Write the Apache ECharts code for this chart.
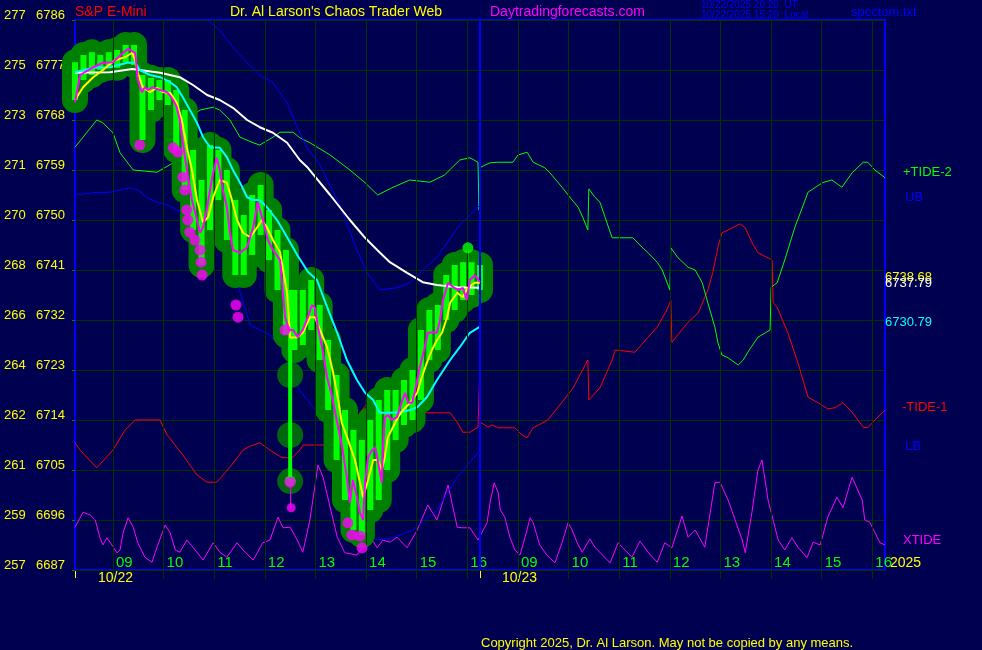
<!DOCTYPE html>
<html><head><meta charset="utf-8">
<script src="https://cdn.jsdelivr.net/npm/echarts@6/dist/echarts.min.js"></script>
<style>html,body{margin:0;padding:0;background:#000050;}#c{width:982px;height:650px;}</style>
</head><body><div id="c"></div>
<script>
// ---------- DATA ----------
// x values are session hours: day 1 clock hour, day 2 clock hour + 8
const leftScale = [257,259,261,262,264,266,268,270,271,273,275,277];
const hourTicks = [9,10,11,12,13,14,15,16,17,18,19,20,21,22,23,24];
const hourLabels = ['09','10','11','12','13','14','15','16','09','10','11','12','13','14','15','16'];
const nowTime = 16.25;

// 10-minute price bars from 08:15 (day 1)
const barStart = 8.25;
const barHigh = [6778.4,6779.7,6780.2,6779.7,6780.2,6780.6,6781.5,6781.5,6776.1,6775.6,6775.2,6775.2,6773.4,6769.8,6762.6,6757.2,6763.5,6762.6,6759.0,6753.6,6750.9,6754.5,6756.3,6751.8,6748.2,6744.6,6737.4,6737.4,6739.2,6734.7,6728.4,6722.1,6715.8,6712.2,6710.4,6714.0,6717.6,6719.4,6719.4,6721.2,6723.0,6730.2,6733.8,6734.7,6740.1,6741.9,6742.4,6742.4,6741.9];
const barLow  = [6771.6,6775.2,6776.1,6777.0,6777.4,6777.4,6778.4,6777.9,6764.4,6769.8,6771.6,6770.7,6762.6,6755.4,6748.2,6741.9,6748.2,6753.6,6746.4,6740.1,6740.1,6743.7,6747.3,6742.8,6737.4,6729.3,6726.6,6727.5,6730.2,6724.8,6715.8,6706.8,6699.6,6694.2,6693.3,6697.8,6699.6,6705.0,6710.4,6713.1,6714.0,6717.6,6724.8,6726.6,6732.0,6733.8,6735.6,6736.5,6737.4];

const spikeBar = [[12.5,6702.8,6737.4]];
const spikeHalo = [[12.5,6722.1],[12.5,6711.3],[12.5,6703.0]];
const spikeTail = [[12.51,6702.8],[12.51,6698.2]];
const greenDots = [[12.5,6703.0],[16.01,6745.0]];
const greenTail = [[16.01,6745.0],[16.01,6741.4]];

const magentaDots = [[9.53,6763.5],[10.19,6763.0],[10.28,6762.2],[10.38,6757.7],[10.42,6755.4],[10.46,6751.8],[10.48,6750.0],[10.52,6747.8],[10.62,6746.4],[10.72,6744.6],[10.74,6742.4],[10.76,6740.1],[11.43,6734.7],[11.47,6732.5],[12.40,6730.2],[12.50,6702.8],[13.64,6695.5],[13.72,6693.3],[13.88,6693.1],[13.92,6691.0]];
const magentaSmallDots = [[12.52,6698.2]];

const fastLine = [[8.25,6771.2],[8.35,6776.1],[8.61,6777.5],[8.80,6778.3],[9.00,6778.4],[9.20,6780.1],[9.30,6780.8],[9.44,6780.1],[9.49,6775.2],[9.57,6773.0],[9.63,6773.9],[9.69,6773.4],[9.77,6773.9],[9.93,6773.4],[10.07,6773.0],[10.19,6771.6],[10.26,6770.3],[10.32,6768.0],[10.38,6763.9],[10.46,6759.0],[10.56,6753.6],[10.66,6750.0],[10.72,6747.7],[10.78,6748.7],[10.86,6752.3],[10.96,6757.7],[11.05,6761.2],[11.11,6759.0],[11.17,6755.4],[11.25,6752.3],[11.31,6747.7],[11.37,6744.6],[11.51,6744.1],[11.65,6745.1],[11.77,6748.7],[11.86,6753.2],[11.96,6750.0],[12.06,6746.4],[12.16,6744.6],[12.30,6742.8],[12.34,6738.7],[12.40,6732.5],[12.48,6730.2],[12.56,6730.2],[12.65,6728.9],[12.75,6730.2],[12.85,6732.5],[12.93,6734.7],[12.99,6734.2],[13.05,6730.7],[13.13,6727.1],[13.23,6721.7],[13.33,6718.1],[13.43,6713.5],[13.52,6709.5],[13.62,6703.7],[13.68,6699.1],[13.74,6703.2],[13.82,6700.1],[13.88,6697.3],[13.94,6696.0],[13.98,6702.7],[14.04,6707.3],[14.12,6708.6],[14.18,6709.1],[14.23,6706.8],[14.31,6702.7],[14.33,6708.6],[14.37,6714.5],[14.43,6714.9],[14.51,6714.0],[14.61,6714.5],[14.67,6716.3],[14.77,6718.9],[14.83,6717.1],[14.91,6717.1],[14.97,6719.4],[15.06,6723.5],[15.16,6727.1],[15.22,6729.7],[15.32,6729.8],[15.40,6729.7],[15.46,6732.0],[15.52,6735.6],[15.62,6738.7],[15.72,6737.9],[15.82,6737.4],[15.91,6737.8],[15.99,6735.6],[16.05,6739.2],[16.15,6740.1],[16.25,6738.8]];

const yellowLine = [[8.25,6771.6],[8.41,6773.9],[8.61,6775.7],[8.80,6777.0],[9.04,6778.8],[9.24,6779.3],[9.38,6780.1],[9.44,6778.8],[9.49,6776.5],[9.59,6773.9],[9.73,6773.0],[9.87,6773.8],[9.99,6773.0],[10.13,6772.9],[10.26,6771.1],[10.36,6768.0],[10.46,6763.1],[10.56,6759.0],[10.66,6753.6],[10.78,6749.6],[10.88,6750.5],[10.98,6754.1],[11.11,6757.2],[11.25,6756.7],[11.35,6753.6],[11.45,6750.0],[11.57,6747.7],[11.71,6746.9],[11.85,6748.7],[11.94,6750.0],[12.04,6748.7],[12.16,6746.4],[12.30,6744.2],[12.44,6736.9],[12.50,6728.8],[12.64,6728.9],[12.75,6729.7],[12.89,6732.5],[12.99,6732.5],[13.09,6730.2],[13.23,6727.1],[13.35,6722.5],[13.45,6717.6],[13.52,6713.5],[13.62,6711.0],[13.78,6706.8],[13.88,6702.7],[13.94,6700.1],[14.04,6703.2],[14.14,6706.8],[14.23,6706.8],[14.31,6705.0],[14.37,6707.3],[14.43,6710.9],[14.53,6712.7],[14.63,6714.5],[14.73,6715.8],[14.87,6717.1],[15.01,6718.9],[15.10,6721.7],[15.20,6724.3],[15.30,6726.6],[15.40,6728.4],[15.50,6729.7],[15.60,6732.5],[15.66,6735.1],[15.80,6736.9],[15.91,6736.1],[16.01,6737.8],[16.15,6738.7],[16.25,6738.7]];

const cyanLine = [[8.25,6776.6],[8.61,6777.4],[8.94,6777.5],[9.28,6778.3],[9.44,6778.3],[9.53,6777.0],[9.73,6776.1],[9.93,6775.7],[10.13,6774.8],[10.26,6773.9],[10.38,6772.1],[10.52,6769.8],[10.66,6767.5],[10.78,6764.9],[10.92,6763.1],[11.11,6763.0],[11.25,6761.3],[11.37,6759.0],[11.51,6756.7],[11.65,6754.1],[11.77,6753.6],[11.90,6753.6],[12.04,6752.3],[12.24,6750.0],[12.44,6746.9],[12.64,6743.7],[12.85,6740.7],[13.03,6739.2],[13.23,6734.3],[13.43,6729.7],[13.62,6724.8],[13.82,6721.2],[13.98,6718.9],[14.14,6717.6],[14.27,6715.3],[14.47,6715.3],[14.67,6715.4],[14.87,6715.8],[15.01,6716.3],[15.20,6718.1],[15.40,6721.2],[15.66,6724.8],[15.85,6727.1],[16.05,6729.7],[16.25,6730.8]];

const whiteLine = [[8.25,6776.5],[8.94,6776.6],[9.38,6777.2],[9.93,6776.5],[10.32,6775.7],[10.58,6774.3],[10.86,6772.5],[11.11,6771.6],[11.37,6770.2],[11.65,6768.0],[11.90,6766.7],[12.16,6765.7],[12.44,6763.9],[12.69,6760.8],[12.85,6759.4],[13.29,6754.5],[13.68,6750.0],[13.98,6746.8],[14.22,6744.6],[14.47,6742.4],[14.81,6740.5],[15.12,6738.8],[15.40,6738.3],[15.80,6737.9],[16.25,6737.8]];

const upperBand = [[10.5,6790.0],[10.86,6786.0],[11.11,6784.2],[11.37,6781.1],[11.65,6778.3],[11.90,6776.1],[12.16,6774.7],[12.44,6771.1],[12.64,6766.7],[12.83,6763.1],[13.09,6759.9],[13.48,6752.7],[13.82,6744.6],[14.02,6740.5],[14.27,6737.4],[14.61,6737.8],[14.87,6738.7],[15.12,6741.0],[15.40,6743.3],[15.50,6744.6],[15.85,6749.1],[16.25,6752.7]];

const lowerBand = [[8.25,6754.5],[8.61,6754.9],[8.94,6755.0],[9.14,6755.4],[9.34,6755.8],[9.49,6755.4],[9.67,6754.1],[9.87,6753.2],[10.07,6752.7],[10.26,6751.8],[10.52,6750.9],[10.82,6749.1],[11.11,6745.5],[11.41,6740.1],[11.71,6731.1],[12.10,6729.3],[12.36,6726.6],[12.69,6719.4],[12.95,6716.3],[13.23,6713.5],[13.48,6707.7],[13.78,6699.6],[14.08,6692.9],[14.22,6692.4],[14.53,6692.8],[14.92,6694.2],[15.40,6697.8],[15.80,6703.7],[16.25,6708.6]];

const tidePlus = [[8.25,6763.1],[8.68,6768.0],[8.80,6767.5],[9.00,6765.7],[9.14,6762.1],[9.40,6759.0],[9.87,6758.6],[10.19,6760.3],[10.32,6760.3],[10.46,6768.0],[10.72,6769.8],[10.98,6770.3],[11.11,6769.8],[11.31,6768.0],[11.51,6764.9],[11.77,6763.9],[11.90,6763.5],[12.16,6764.9],[12.30,6765.8],[12.56,6765.8],[12.69,6764.8],[12.89,6763.9],[13.29,6761.7],[13.68,6759.0],[13.98,6756.7],[14.23,6754.5],[14.51,6755.8],[14.86,6757.2],[15.26,6756.8],[15.55,6758.1],[15.85,6760.8],[16.05,6761.2],[16.21,6760.4],[16.23,6751.8],[16.25,6759.4],[16.35,6759.9],[16.45,6760.3],[16.59,6760.4],[16.90,6760.4],[17.00,6761.7],[17.18,6762.2],[17.30,6760.4],[17.53,6759.4],[17.63,6758.5],[17.87,6755.9],[18.07,6753.6],[18.19,6752.3],[18.28,6750.5],[18.38,6748.2],[18.40,6755.6],[18.52,6754.1],[18.62,6753.2],[18.72,6750.5],[18.86,6746.8],[18.96,6746.8],[19.27,6746.8],[19.45,6745.1],[19.57,6744.1],[19.75,6742.4],[19.85,6741.0],[20.00,6737.4],[20.02,6745.0],[20.16,6743.2],[20.36,6741.5],[20.50,6741.0],[20.64,6738.7],[20.75,6735.1],[20.89,6730.7],[20.95,6727.9],[21.03,6725.7],[21.15,6725.2],[21.35,6723.9],[21.45,6724.8],[21.54,6726.2],[21.74,6728.9],[21.98,6730.2],[22.00,6737.9],[22.12,6738.7],[22.27,6742.8],[22.47,6748.7],[22.73,6755.0],[23.01,6756.7],[23.20,6757.2],[23.40,6755.9],[23.60,6758.5],[23.82,6760.4],[23.91,6760.4],[24.05,6759.0],[24.25,6757.6]];

const tideMinus = [[8.25,6709.9],[8.35,6708.6],[8.68,6705.4],[9.00,6708.6],[9.24,6712.2],[9.44,6714.0],[9.93,6714.0],[10.07,6711.3],[10.38,6707.7],[10.66,6704.1],[10.86,6702.8],[11.05,6702.8],[11.31,6705.5],[11.57,6708.6],[11.71,6709.3],[11.90,6709.9],[12.10,6708.6],[12.34,6707.2],[12.54,6707.2],[12.69,6708.6],[12.75,6709.5],[13.25,6709.5],[13.43,6710.4],[13.68,6712.7],[13.88,6715.3],[14.08,6717.6],[14.18,6718.5],[14.31,6718.5],[14.41,6717.1],[14.53,6716.3],[14.71,6715.3],[15.66,6715.3],[15.80,6713.6],[15.91,6711.8],[16.05,6711.8],[16.21,6712.7],[16.24,6721.2],[16.26,6713.6],[16.41,6712.7],[16.49,6713.1],[16.61,6712.6],[16.94,6712.6],[17.08,6711.3],[17.18,6710.8],[17.30,6712.6],[17.59,6714.0],[17.87,6717.2],[18.09,6719.8],[18.38,6724.8],[18.40,6717.6],[18.62,6719.8],[18.86,6724.8],[18.92,6726.6],[19.31,6726.2],[19.57,6728.9],[19.75,6730.7],[19.94,6733.8],[20.02,6735.6],[20.04,6728.0],[20.36,6731.6],[20.56,6733.3],[20.75,6737.4],[20.85,6740.6],[20.95,6745.1],[21.03,6747.7],[21.15,6748.2],[21.39,6749.3],[21.49,6748.6],[21.62,6746.0],[21.74,6744.1],[22.02,6742.8],[22.04,6735.1],[22.12,6734.3],[22.33,6729.7],[22.53,6724.3],[22.73,6718.1],[22.93,6717.1],[23.12,6716.0],[23.26,6716.2],[23.42,6717.1],[23.60,6715.4],[23.82,6712.7],[23.91,6712.6],[24.05,6714.0],[24.25,6715.8]];

const xTide = [[8.25,6694.7],[8.41,6697.4],[8.55,6696.9],[8.65,6696.0],[8.74,6692.9],[8.80,6691.5],[8.88,6692.8],[8.98,6691.5],[9.08,6690.1],[9.14,6690.6],[9.20,6693.7],[9.30,6696.4],[9.40,6694.7],[9.49,6691.9],[9.63,6689.3],[9.77,6688.4],[9.87,6691.1],[10.03,6695.1],[10.13,6693.7],[10.23,6690.6],[10.32,6690.2],[10.46,6692.4],[10.58,6691.1],[10.78,6688.8],[10.98,6691.9],[11.11,6690.2],[11.25,6689.3],[11.45,6691.9],[11.57,6690.6],[11.77,6688.8],[11.96,6691.9],[12.10,6692.4],[12.26,6696.5],[12.36,6694.6],[12.50,6694.7],[12.64,6692.4],[12.75,6690.2],[12.89,6696.0],[13.05,6705.9],[13.15,6703.7],[13.29,6698.3],[13.43,6692.9],[13.58,6690.1],[13.82,6689.7],[14.08,6692.9],[14.22,6691.0],[14.33,6692.4],[14.47,6692.0],[14.61,6692.9],[14.81,6691.0],[15.01,6694.2],[15.22,6698.7],[15.40,6696.0],[15.62,6702.3],[15.80,6694.7],[15.89,6694.6],[16.05,6694.6],[16.21,6692.4],[16.39,6695.5],[16.45,6699.2],[16.53,6702.7],[16.61,6700.9],[16.65,6697.8],[16.74,6696.5],[16.84,6692.9],[16.94,6690.6],[17.04,6689.7],[17.14,6692.9],[17.24,6696.4],[17.30,6695.5],[17.43,6691.5],[17.57,6689.7],[17.73,6688.3],[17.87,6691.9],[17.99,6695.5],[18.07,6694.2],[18.17,6691.9],[18.27,6690.2],[18.42,6692.6],[18.52,6691.1],[18.72,6689.2],[18.82,6688.3],[18.98,6691.9],[19.07,6691.0],[19.25,6689.3],[19.41,6692.2],[19.57,6690.2],[19.75,6688.4],[19.90,6691.9],[20.04,6691.0],[20.24,6696.7],[20.36,6692.9],[20.50,6694.2],[20.69,6691.1],[20.89,6702.7],[20.99,6702.8],[21.15,6699.6],[21.43,6692.4],[21.49,6690.1],[21.62,6697.3],[21.74,6705.0],[21.82,6706.8],[21.94,6699.6],[22.14,6692.4],[22.27,6690.6],[22.41,6692.8],[22.53,6691.1],[22.71,6689.2],[22.83,6692.0],[22.97,6691.5],[23.12,6696.5],[23.30,6700.1],[23.42,6698.2],[23.60,6703.7],[23.80,6699.6],[23.85,6696.0],[23.95,6695.6],[24.15,6691.9],[24.25,6691.5]];

// ---------- CHART ----------
const F = '"Liberation Sans", Arial, sans-serif';
const bars = barHigh.map((h, i) => [barStart + i / 6, barLow[i], h]);
const chart = echarts.init(document.getElementById('c'), null, {renderer: 'canvas'});

function capsule(r, fill) {
  return function (params, api) {
    const x = api.value(0), lo = api.value(1), hi = api.value(2);
    const a = api.coord([x, hi]), b = api.coord([x, lo]);
    return {type: 'rect', shape: {x: a[0] - r, y: a[1] - r, width: 2 * r, height: b[1] - a[1] + 2 * r, r: r}, style: {fill: fill}};
  };
}
function barRect(w, fill) {
  return function (params, api) {
    const x = api.value(0), lo = api.value(1), hi = api.value(2);
    const a = api.coord([x, hi]), b = api.coord([x, lo]);
    return {type: 'rect', shape: {x: a[0] - w / 2, y: a[1], width: w, height: Math.max(1, b[1] - a[1])}, style: {fill: fill}};
  };
}
const thin = (name, data, color, z) => ({name, type: 'line', data, showSymbol: false, symbol: 'none', z, lineStyle: {color, width: 1}, silent: true, animation: false});
const thick = (name, data, color, z) => ({name, type: 'line', data, showSymbol: false, symbol: 'none', z, lineStyle: {color, width: 2}, silent: true, animation: false});

const txt = (x, y, text, fill, size, extra) => Object.assign({type: 'text', x, y, silent: true, style: {text, fill, font: size + 'px ' + F, verticalAlign: 'middle', textVerticalAlign: 'middle'}}, extra || {});

chart.setOption({
  backgroundColor: '#000050',
  animation: false,
  grid: {left: 75, top: 20, right: 97, bottom: 80, show: true, borderColor: '#0000ff', borderWidth: 2, backgroundColor: 'transparent'},
  xAxis: {
    type: 'value', min: 8.25, max: 24.25,
    axisLine: {show: false},
    splitLine: {show: false},
    axisTick: {show: true, customValues: hourTicks, length: 9, inside: false, lineStyle: {color: '#003300', width: 1}},
    axisLabel: {show: true, customValues: hourTicks, inside: true, margin: 0, align: 'left', padding: [0, 0, 0, 3],
      color: '#00ff00', fontFamily: F, fontSize: 15,
      formatter: v => hourLabels[hourTicks.indexOf(Math.round(v))] || ''}
  },
  yAxis: {
    type: 'value', min: 6687, max: 6786, interval: 9,
    axisLine: {show: false},
    axisTick: {show: true, length: 3, lineStyle: {color: '#008000'}},
    splitLine: {show: true, lineStyle: {color: '#003300', width: 1}},
    axisLabel: {margin: 10, color: '#ffff00', fontFamily: F, fontSize: 13, verticalAlign: 'middle', padding: [0, 0, 10, 0],
      formatter: v => '{a|' + leftScale[Math.round((v - 6687) / 9)] + '}{b|' + v + '}',
      rich: {a: {width: 32, align: 'left', color: '#ffff00', fontFamily: F, fontSize: 13}, b: {color: '#ffff00', fontFamily: F, fontSize: 13}}}
  },
  series: [
    {type: 'line', data: [], silent: true, z: 0,
      markLine: {silent: true, symbol: 'none', label: {show: false}, animation: false,
        lineStyle: {color: '#003300', width: 1, type: 'solid'},
        data: hourTicks.map(h => ({xAxis: h}))}},
    thin('tideMinus', tideMinus, '#ff0000', 1),
    thin('tidePlus', tidePlus, '#00ff00', 1),
    thin('xTide', xTide, '#ff00ff', 1),
    thin('UB', upperBand, '#0000ff', 1),
    thin('LB', lowerBand, '#0000ff', 1),
    {type: 'custom', data: bars, renderItem: capsule(13, '#008000'), z: 2, silent: true, animation: false},
    {type: 'scatter', data: spikeHalo, symbolSize: 26, itemStyle: {color: '#008000'}, z: 2, silent: true, animation: false},
    {type: 'custom', data: bars, renderItem: barRect(6, '#00ff00'), z: 3, silent: true, animation: false},
    {type: 'custom', data: spikeBar, renderItem: barRect(4, '#00ff00'), z: 3, silent: true, animation: false},
    thin('greenTail', greenTail, '#00ff00', 3),
    thin('spikeTail', spikeTail, '#ff00ff', 3),
    thick('white', whiteLine, '#ffffff', 4),
    thick('cyan', cyanLine, '#00ffff', 4),
    thick('yellow', yellowLine, '#ffff00', 5),
    thick('fast', fastLine, '#ff00ff', 6),
    {type: 'scatter', data: greenDots, symbolSize: 11, itemStyle: {color: '#00ff00'}, z: 7, silent: true, animation: false},
    {type: 'scatter', data: magentaDots, symbolSize: 11, itemStyle: {color: '#ff00ff'}, z: 8, silent: true, animation: false},
    {type: 'scatter', data: magentaSmallDots, symbolSize: 9, itemStyle: {color: '#ff00ff'}, z: 8, silent: true, animation: false},
    {type: 'line', data: [], silent: true, z: 9,
      markLine: {silent: true, symbol: 'none', label: {show: false}, animation: false,
        lineStyle: {color: '#0000ff', width: 2, type: 'solid'}, data: [{xAxis: nowTime}]}}
  ],
  graphic: [
    txt(75, 12, 'S&P E-Mini', '#ff0000', 14),
    txt(230, 12, "Dr. Al Larson's Chaos Trader Web", '#ffff00', 14),
    txt(490, 12, 'Daytradingforecasts.com', '#ff00ff', 14),
    txt(701, 5, '10/22/2025 20:20  UT', '#0000ff', 10),
    txt(701, 15, '10/22/2025 15:20  Local', '#0000ff', 10),
    txt(851, 12, 'spcctom.txt', '#0000ff', 13),
    txt(903, 172, '+TIDE-2', '#00ff00', 13),
    txt(905, 197, 'UB', '#0000ff', 13),
    txt(885, 277, '6738.68', '#ffff00', 13),
    txt(885, 283, '6737.79', '#ffffff', 13),
    txt(885, 322, '6730.79', '#00ffff', 13),
    txt(902, 407, '-TIDE-1', '#ff0000', 13),
    txt(905, 446, 'LB', '#0000ff', 13),
    txt(903, 540, 'XTIDE', '#ff00ff', 13),
    txt(890, 563, '2025', '#ffff00', 14),
    txt(98, 578, '10/22', '#ffff00', 14),
    txt(502, 578, '10/23', '#ffff00', 14),
    {type: 'line', silent: true, shape: {x1: 75.5, y1: 571, x2: 75.5, y2: 578}, style: {stroke: '#ffff00', lineWidth: 1}},
    {type: 'line', silent: true, shape: {x1: 480.5, y1: 571, x2: 480.5, y2: 578}, style: {stroke: '#ffff00', lineWidth: 1}},
    txt(481, 643, 'Copyright 2025, Dr. Al Larson. May not be copied by any means.', '#ffff00', 13)
  ]
});
</script></body></html>
